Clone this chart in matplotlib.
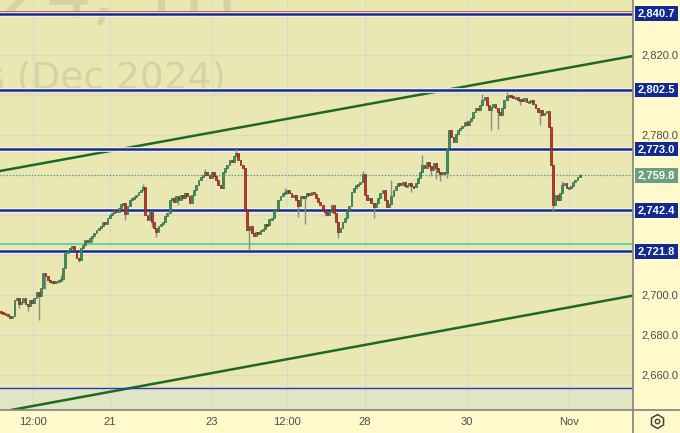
import matplotlib
matplotlib.use("Agg")
import matplotlib.pyplot as plt
import matplotlib.transforms as mtrans
from matplotlib.patches import Rectangle
from matplotlib.lines import Line2D

# hourly closes (open = previous close)
first_open = 2692.0
closes = [
    2691.5, 2691, 2690.5, 2689.5, 2689, 2689.5, 2697.5, 2698.5, 2695.5, 2696.5,
    2698.5, 2695.5, 2694.5, 2697.5, 2696, 2698.5, 2701.5, 2699.5, 2703.5, 2711,
    2709.5, 2707.5, 2706.5, 2707, 2706, 2707, 2707.5, 2708, 2713.5, 2721,
    2722.5, 2723.5, 2724.5, 2721.5, 2718.5, 2717.5, 2723.5, 2725, 2727.5, 2726.5,
    2728.5, 2729.5, 2731, 2732.5, 2733.5, 2734.5, 2736.5, 2735.5, 2738.5, 2740,
    2741, 2742.5, 2741.5, 2743.5, 2745.5, 2746, 2740.5, 2744.5, 2747.5, 2748.5,
    2749, 2750, 2751.5, 2752.5, 2754, 2740, 2737.5, 2741.5, 2736.5, 2733.5,
    2731.5, 2734.5, 2735.5, 2736.5, 2739.5, 2741, 2747.5, 2748.5, 2746.5, 2749.5,
    2747.5, 2750, 2748.5, 2751, 2749.5, 2746, 2750, 2752.5, 2755, 2757.5,
    2759, 2760, 2761.5, 2760, 2758.5, 2761.5, 2759.5, 2757.5, 2755, 2753.5,
    2761.5, 2763.5, 2765, 2767.5, 2766.5, 2769.5, 2771, 2767.5, 2765, 2763.5,
    2742.5, 2732.5, 2734.5, 2731, 2729.5, 2731.5, 2730.5, 2732.5, 2733, 2735.5,
    2735, 2738, 2738.5, 2742.5, 2743, 2747.5, 2749.5, 2751, 2751, 2752.5,
    2751, 2749, 2750, 2747.5, 2744.5, 2749.5, 2748.5, 2749.5, 2751, 2750,
    2751.5, 2750.5, 2748.5, 2746.5, 2745, 2742.5, 2741.5, 2740, 2741.5, 2745,
    2741, 2736.5, 2731.5, 2733.5, 2736.5, 2738.5, 2742.5, 2744.5, 2751.5, 2753.5,
    2755, 2755.5, 2756.5, 2760.5, 2750, 2747.5, 2748.5, 2746, 2744, 2746,
    2748.5, 2751, 2752.5, 2747.5, 2744, 2745.5, 2749.5, 2752.5, 2754.5, 2756,
    2755, 2756.5, 2754.5, 2755, 2756, 2754.5, 2754, 2756, 2758.5, 2761.5,
    2765, 2763.5, 2766.5, 2764.5, 2762.5, 2766, 2763.5, 2761.5, 2760.5, 2761.5,
    2761, 2773.5, 2782.5, 2779, 2776.5, 2780.5, 2782.5, 2783.5, 2784.5, 2786.5,
    2785, 2787, 2788.5, 2791.5, 2793.5, 2792.5, 2795, 2797.5, 2799, 2795,
    2792.5, 2794, 2795.5, 2793.5, 2791.5, 2790, 2793.5, 2797.5, 2799.5, 2800,
    2799.5, 2798.5, 2799, 2797.5, 2798, 2797, 2798.5, 2796.5, 2797, 2797.5,
    2795.5, 2793.5, 2791.5, 2792.5, 2790, 2791, 2792, 2784, 2765, 2745,
    2750, 2747.5, 2751, 2755, 2756, 2753.5, 2754, 2754.5, 2756.5, 2757.5,
    2759, 2759.8,
]
# visible long wicks: index -> (low, high)
wicks = {
    8: (2693.5, None), 12: (2692, None), 17: (2687.5, None), 20: (2703, None),
    27: (None, 2710), 35: (2716.5, None), 41: (2726.5, None), 56: (2737.5, None),
    64: (None, 2755.5), 68: (2734, None), 70: (2729, None), 80: (2745, None),
    92: (None, 2763), 106: (None, 2773), 112: (2722.5, None), 128: (None, 2753.5),
    134: (2739, None), 137: (2735.5, None), 146: (2739.5, None), 152: (2728.5, None),
    163: (None, 2762), 168: (2738.5, None), 176: (None, 2757.5), 185: (2751.5, None),
    190: (None, 2770), 194: (2759.5, None), 196: (2758, None), 198: (2757, None),
    201: (2758.5, None), 210: (None, 2787.5), 217: (None, 2800.5), 221: (2782.5, None),
    224: (2783, None), 228: (None, 2801.5), 234: (2795, None), 240: (None, 2797.5),
    243: (2785, None), 249: (2742, None), 253: (None, 2757), 261: (None, 2760.5),
}

levels = [2840.7, 2802.5, 2773.0, 2742.4, 2721.8]
last_price = 2759.8
teal_level = 2725.5
low_level = 2653.5
upper_trend = [(-0.5, 2762.0), (285, 2819.5)]
lower_trend = [(4.5, 2642.5), (285, 2699.7)]

x_ticks = [14.4, 49.1, 95.1, 128.9, 164.1, 210.1, 256.2]
x_labels = ['12:00', '21', '23', '12:00', '28', '30', 'Nov']
y_ticks = [2660, 2680, 2700, 2720, 2740, 2760, 2780, 2800, 2820, 2840]
y_labels = ['2,660.0', '2,680.0', '2,700.0', '', '', '', '2,780.0', '', '2,820.0', '']

W, H = 680, 433
fig = plt.figure(figsize=(W / 100, H / 100), dpi=100, facecolor='#fff9cb')
ax = fig.add_axes([0, 1 - 410 / H, 633 / W, 410 / H])
ax.set_facecolor('#e9e7b2')
ax.set_xlim(-0.5, 285)
ax.set_ylim(2642.5, 2847.5)

# watermark (cut off by the chart edge, as in the source)
wm = dict(color='#d5d3a1', zorder=0.5, family='DejaVu Sans', transform=ax.transAxes)
ax.text(238 / 633, (410 - 17) / 410, 'GCZ2024, 1H', fontsize=52, ha='right', va='baseline', **wm)
ax.text(226 / 633, (410 - 88) / 410, 'Gold Futures (Dec 2024)', fontsize=27, ha='right', va='baseline', **wm)

# lower shaded region
ax.axhspan(2642.5, low_level, color='#e0e6c3', zorder=0.4, lw=0)

ax.set_xticks(x_ticks)
ax.set_xticklabels(x_labels)
ax.set_yticks(y_ticks)
ax.set_yticklabels(y_labels)
ax.yaxis.tick_right()
ax.grid(True, color='#d8d8cc', lw=0.8, zorder=0.6)
ax.set_axisbelow(True)
ax.tick_params(length=0, labelsize=8, labelcolor='#4d4d4d')
ax.tick_params(axis='y', pad=6)
ax.tick_params(axis='x', pad=5)
for lab in ax.get_xticklabels() + ax.get_yticklabels():
    lab.set_family('Liberation Sans')
for s in ax.spines.values():
    s.set_visible(False)

# trend lines
ax.axline(*upper_trend, color='#1d6a22', lw=1.8, zorder=2)
ax.axline(*lower_trend, color='#1d6a22', lw=1.8, zorder=2)

# horizontal levels
ax.axhline(2841.6, color='#e0403a', lw=1.2, zorder=2)
ax.axhline(2801.6, color='#8c9c8c', lw=1.0, ls=(0, (1, 1)), zorder=2)
for p in levels:
    ax.axhline(p, color='#f6f4d8', lw=3.4, zorder=2)
    ax.axhline(p, color='#142a9a', lw=1.8, zorder=2.1)
ax.axhline(teal_level, color='#3fcb9c', lw=1.1, zorder=2)
ax.axhline(low_level, color='#2a36d0', lw=1.0, zorder=2)
ax.axhline(last_price, color='#5b9c74', lw=0.9, ls=(0, (1, 1.5)), zorder=2)

# candles
opens = [first_open] + closes[:-1]
for i, (o, c) in enumerate(zip(opens, closes)):
    lo, hi = min(o, c), max(o, c)
    wl, wh = wicks.get(i, (None, None))
    up = c >= o
    body_c = '#3f8f5f' if up else '#c2352c'
    edge_c = '#2b6a46' if up else '#7c1d17'
    low = wl if wl is not None else lo
    high = wh if wh is not None else hi
    if low < lo or high > hi:
        ax.vlines(i, low, high, color='#8c8c84', lw=1.0, zorder=3)
    ax.bar(i, max(hi - lo, 0.6), bottom=lo if hi - lo >= 0.6 else lo - 0.3,
           width=0.82, color=body_c, edgecolor=edge_c, lw=0.5, zorder=4)

# right axis line and bottom line
fig.add_artist(Line2D([633 / W, 633 / W], [0, 1], color='#8a8a84', lw=1.3))
fig.add_artist(Line2D([0, 1], [1 - 410 / H, 1 - 410 / H], color='#8a8a84', lw=1.3))

# price badges
blend = mtrans.blended_transform_factory(fig.transFigure, ax.transData)
badges = [(p, '#112a8f') for p in levels] + [(last_price, '#6c9f7e')]
for p, col in badges:
    ax.add_patch(Rectangle((635 / W, p - 3.7), 43 / W, 7.4, transform=blend,
                           facecolor=col, edgecolor='none', clip_on=False, zorder=6))
    ax.text(656.5 / W, p, f'{p:,.1f}', transform=blend, ha='center', va='center',
            color='white', fontsize=8, fontweight='bold', family='Liberation Sans',
            clip_on=False, zorder=7)

# settings icon
fig.add_artist(Line2D([657 / W], [1 - 421 / H], marker='h', markersize=10,
                      mfc='none', mec='#444444', mew=1.1))
fig.add_artist(Line2D([657 / W], [1 - 421 / H], marker='o', markersize=3.2,
                      mfc='none', mec='#444444', mew=1.0))

fig.savefig('out.png', dpi=100, facecolor=fig.get_facecolor())
